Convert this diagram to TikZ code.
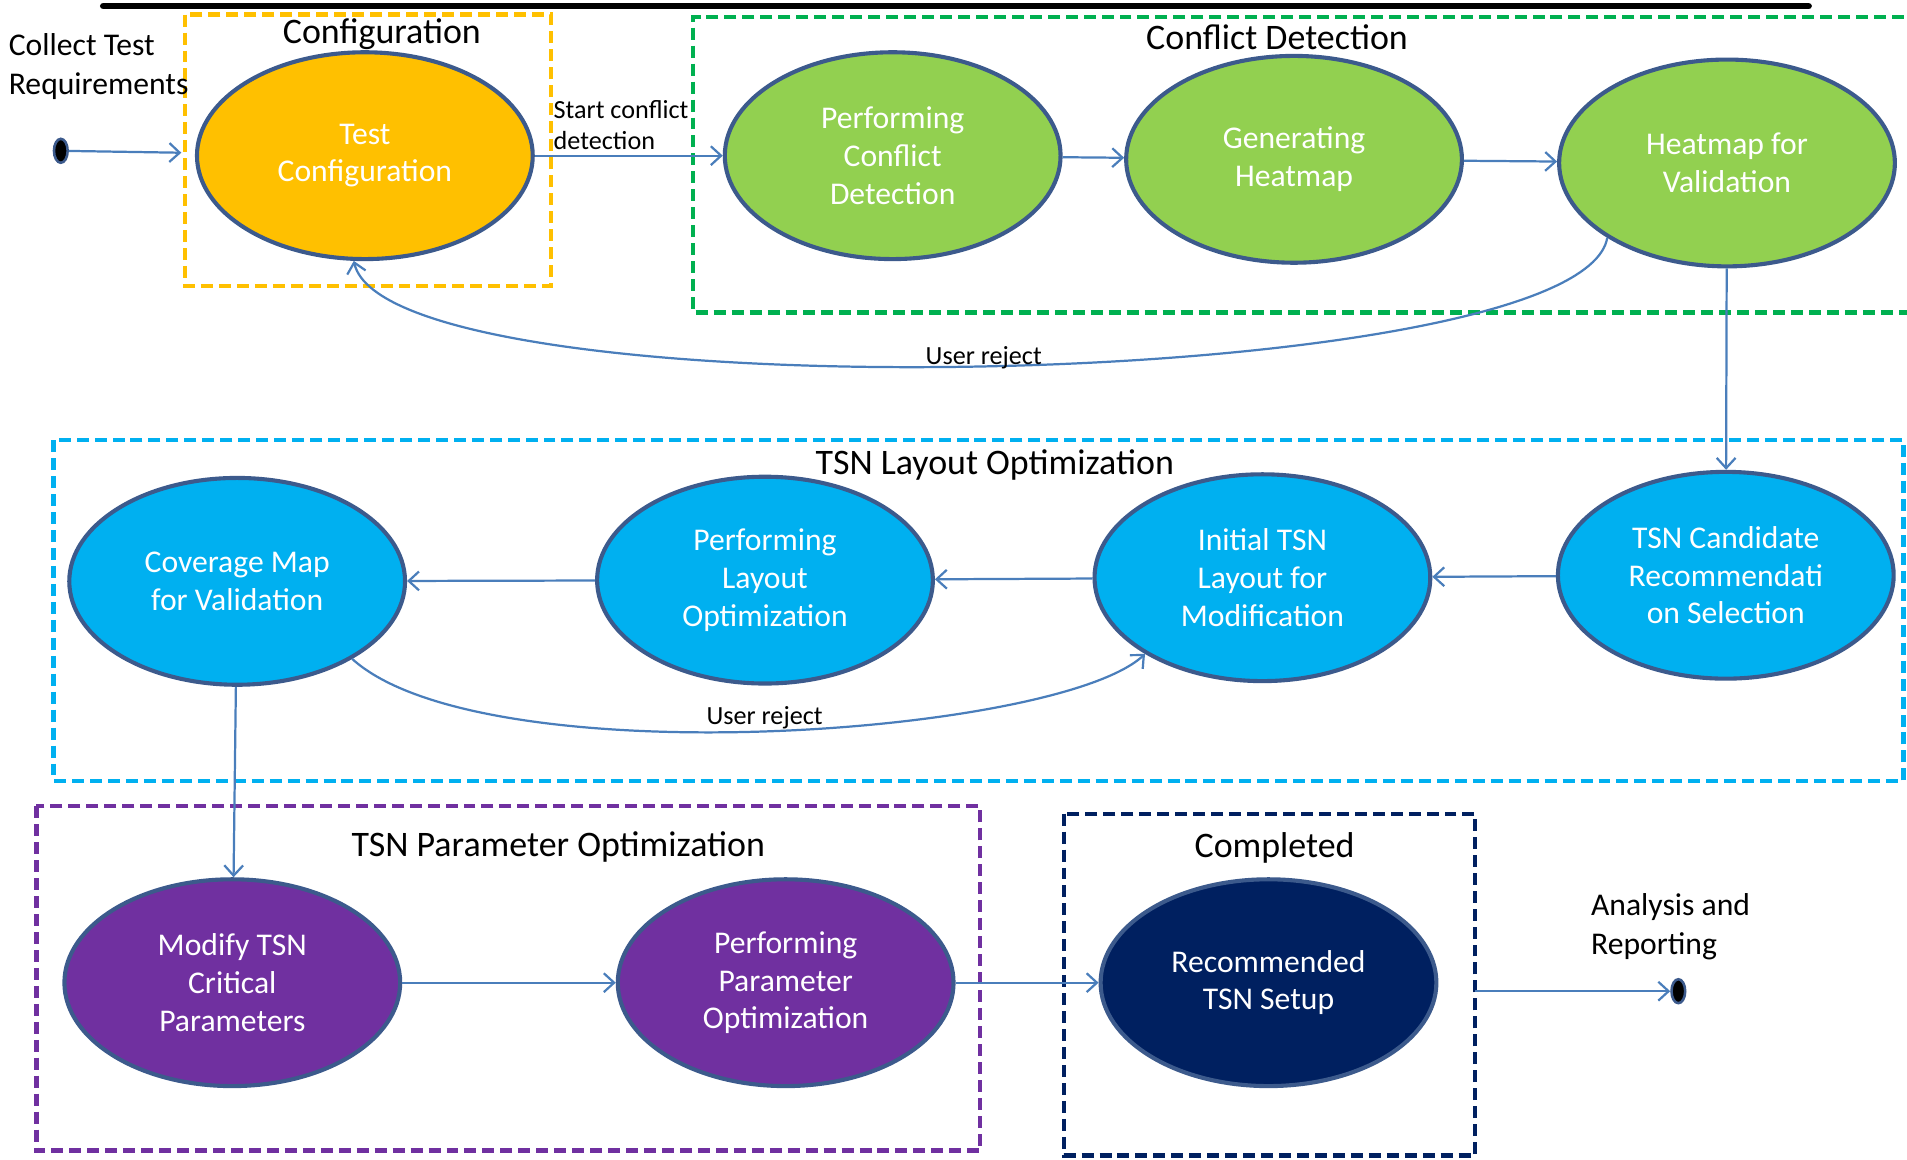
\documentclass[tikz,border=0pt]{standalone}
\usepackage{fontspec}
\setmainfont{Carlito}
\usepackage{xcolor}
\usetikzlibrary{shapes.geometric, arrows.meta}

\definecolor{cfgyel}{HTML}{FFC000}
\definecolor{detgrn}{HTML}{92D050}
\definecolor{boxgrn}{HTML}{00B050}
\definecolor{layblu}{HTML}{00B0F0}
\definecolor{parpur}{HTML}{7030A0}
\definecolor{cmpnavy}{HTML}{002060}
\definecolor{rim}{HTML}{3C5A8C}
\definecolor{wire}{HTML}{4A7EBB}

\begin{document}
\begin{tikzpicture}[x=0.025cm, y=-0.025cm,
    phase/.style={ellipse, draw=rim, line width=2.4pt, minimum width=6.9cm,
                  minimum height=4.25cm, inner sep=0pt, align=center,
                  text=white, font=\fontsize{18.5}{22}\selectfont},
    arw/.style={-{Straight Barb[length=6pt, width=11pt]}, wire, line width=1.3pt},
    lbl/.style={text=black, font=\fontsize{15.3}{18.5}\selectfont},
    side/.style={font=\fontsize{18.5}{22.7}\selectfont, align=left, anchor=west,
                 inner sep=0pt},
    ttl/.style={font=\fontsize{21}{25}\selectfont},
    grp/.style={line width=2.5pt, dash pattern=on 7pt off 3.5pt},
    term/.style={ellipse, fill=black, draw=rim, line width=1.5pt,
                 minimum width=8pt, minimum height=14pt, inner sep=0pt},
]
\useasboundingbox (0,0) rectangle (1568,953);

% top rule
\draw[line width=4pt, line cap=round] (85,5) -- (1487,5);

% Group frames
\draw[grp, cfgyel] (152,12) rectangle (453,235);
\draw[grp, boxgrn] (1580,14) -- (570,14) -- (570,257) -- (1580,257);
\draw[grp, layblu] (44,362) rectangle (1565,642);
\draw[grp, parpur] (30,663) rectangle (806,946);
\draw[grp, cmpnavy] (875,669) rectangle (1213,950);

\node[ttl] (cfgttl) at (314,28) {Configuration};
\node[ttl] (detttl) at (1050,31) {Conflict Detection};
\node[ttl] (layttl) at (818,382) {TSN Layout Optimization};
\node[ttl] (parttl) at (459,696) {TSN Parameter Optimization};
\node[ttl] (cmpttl) at (1048,697) {Completed};

% States
\node[phase, fill=cfgyel] (tc) at (300,128) {Test\\Configuration};
\node[phase, fill=detgrn] (pcd) at (734,128) {Performing\\Conflict\\Detection};
\node[phase, fill=detgrn] (gh) at (1064,131) {Generating\\Heatmap};
\node[phase, fill=detgrn] (hv) at (1420,134) {Heatmap for\\Validation};
\node[phase, fill=layblu] (cmv) at (195,478) {Coverage Map\\for Validation};
\node[phase, fill=layblu] (plo) at (629,477) {Performing\\Layout\\Optimization};
\node[phase, fill=layblu] (itl) at (1038,475) {Initial TSN\\Layout for\\Modification};
\node[phase, fill=layblu] (tcr) at (1419,473) {TSN Candidate\\Recommendati\\on Selection};
\node[phase, fill=parpur] (mtc) at (191,808) {Modify TSN\\Critical\\Parameters};
\node[phase, fill=parpur] (ppo) at (646,808) {Performing\\Parameter\\Optimization};
\node[phase, fill=cmpnavy] (rts) at (1043,808) {Recommended\\TSN Setup};

\node[term] (start) at (50,124) {};
\node[term] (stop) at (1380,815) {};
\node[side] (collect) at (7,55) {Collect Test\\Requirements};
\node[side] (report) at (1308,762) {Analysis and\\Reporting};
\node[lbl, align=left, anchor=west, inner sep=0pt] (startlbl) at (455,103) {Start conflict\\detection};
\coordinate (cmpout) at (1213,815);

% Transitions
\draw[arw, shorten >=8pt] (start) -- (tc);
\draw[arw] (tc) -- (pcd);
\draw[arw] (pcd) -- (gh);
\draw[arw] (gh) -- (hv);
\draw[arw] (hv) -- (tcr);
\draw[arw] (hv.212) .. controls +(-22,128) and +(29,128) .. (tc.264)
    node[lbl, pos=0.5, yshift=5pt] (rej1) {User reject};
\draw[arw] (tcr) -- (itl);
\draw[arw] (itl) -- (plo);
\draw[arw] (plo) -- (cmv);
\draw[arw] (cmv.326) .. controls +(107,97) and +(-72,67) .. (itl.213)
    node[lbl, pos=0.5, yshift=8pt] (rej2) {User reject};
\draw[arw] (cmv) -- (mtc);
\draw[arw] (mtc) -- (ppo);
\draw[arw] (ppo) -- (rts);
\draw[arw] (cmpout) -- (stop);
\end{tikzpicture}
\end{document}
